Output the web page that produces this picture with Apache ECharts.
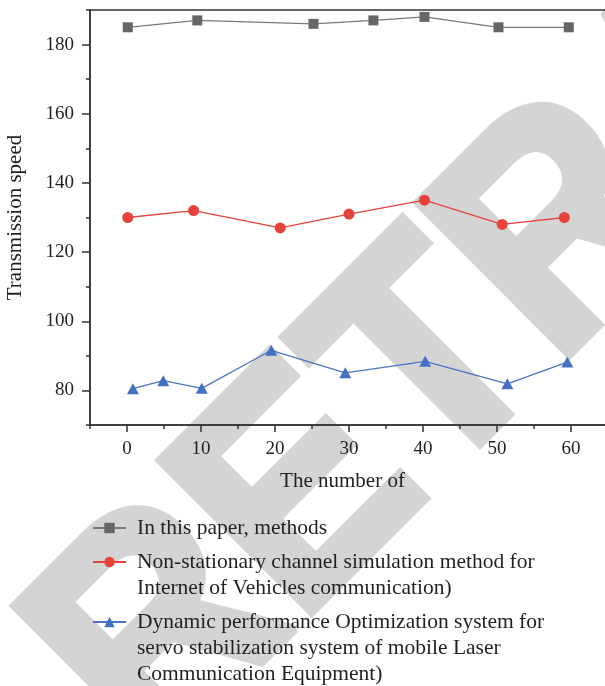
<!DOCTYPE html>
<html>
<head>
<meta charset="utf-8">
<script src="https://cdn.jsdelivr.net/npm/echarts@6/dist/echarts.min.js"></script>
<style>
  html, body { margin: 0; padding: 0; background: #fff; }
  #chart { width: 605px; height: 686px; }
</style>
</head>
<body>
<div id="chart"></div>
<script>
// Series values (x = the number of, y = transmission speed)
const paperX = [0.1, 9.5, 25.2, 33.3, 40.2, 50.2, 59.7];
const paperY = [185, 187, 186, 187, 188, 185, 185];

const channelX = [0.1, 9.0, 20.7, 30.0, 40.2, 50.7, 59.1];
const channelY = [130, 132, 127, 131, 135, 128, 130];

const servoX = [0.8, 4.9, 10.1, 19.5, 29.5, 40.3, 51.4, 59.5];
const servoY = [80.5, 82.8, 80.6, 91.6, 85.1, 88.4, 81.9, 88.2];

const seriesNames = [
  'In this paper, methods',
  'Non-stationary channel simulation method for\nInternet of Vehicles communication)',
  'Dynamic performance Optimization system for\nservo stabilization system of mobile Laser\nCommunication Equipment)'
];

// Tick positions
const xMajorTicks = [0, 10, 20, 30, 40, 50, 60];
const xMinorTicks = [-5, 5, 15, 25, 35, 45, 55, 65];
const yMajorTicks = [80, 100, 120, 140, 160, 180];
const yMinorTicks = [70, 90, 110, 130, 150, 170, 190];

const pairs = (xs, ys) => xs.map((x, i) => [x, ys[i]]);

const ink = '#231f20';
const axisColor = '#333333';
const serif = '"Liberation Serif", "Times New Roman", serif';

// Legend entries: icon sits beside the first line of a wrapped name,
// so the label is padded with leading blank lines to centre that line.
const legendTops = [515, 523, 557];
const legends = seriesNames.map((name, i) => {
  const extra = name.split('\n').length - 1;
  return {
    orient: 'vertical',
    left: 92,
    top: legendTops[i],
    height: 200,
    padding: 0,
    itemWidth: 33,
    itemHeight: 13,
    selectedMode: false,
    data: [name],
    formatter: (n) => '\n'.repeat(extra) + n,
    textStyle: { color: ink, fontFamily: serif, fontSize: 21.5, lineHeight: 26, padding: [0, 0, 0, 6] }
  };
});

const chart = echarts.init(document.getElementById('chart'), null, { renderer: 'canvas' });

const option = {
  backgroundColor: '#ffffff',
  animation: false,
  graphic: [{
    type: 'text',
    z: -10,
    silent: true,
    x: 92,
    y: 710,
    rotation: Math.PI / 4,
    scaleX: 0.92,
    style: {
      text: 'RETRACTED',
      font: 'bold 310px "Liberation Sans", Arial, sans-serif',
      fill: '#d4d4d4',
      stroke: '#d4d4d4',
      lineWidth: 10,
      lineJoin: 'miter',
      align: 'left',
      verticalAlign: 'middle'
    }
  }],
  grid: {
    left: 90, top: 10, right: -3, bottom: 261,
    outerBoundsMode: 'none',
    containLabel: false,
    show: true,
    borderColor: axisColor,
    borderWidth: 1.5,
    backgroundColor: 'transparent'
  },
  xAxis: [{
    type: 'value',
    min: -5, max: 65, interval: 5,
    splitLine: { show: false },
    axisLine: { onZero: false, lineStyle: { color: axisColor, width: 1.5 } },
    axisTick: { show: true, inside: false, length: 7, customValues: xMajorTicks,
      lineStyle: { color: axisColor, width: 1.5 } },
    axisLabel: { customValues: xMajorTicks, margin: 15, color: ink,
      fontFamily: serif, fontSize: 19 },
    name: 'The number of',
    nameLocation: 'middle',
    nameGap: 46,
    nameTextStyle: { color: ink, fontFamily: serif, fontSize: 21, padding: [0, 13, 0, 0] }
  }, {
    type: 'value',
    min: -5, max: 65, interval: 5,
    position: 'bottom',
    splitLine: { show: false },
    axisLine: { show: false, onZero: false },
    axisTick: { show: true, length: 4, customValues: xMinorTicks,
      lineStyle: { color: axisColor, width: 1.5 } },
    axisLabel: { show: false }
  }],
  yAxis: [{
    type: 'value',
    min: 70, max: 190, interval: 10,
    splitLine: { show: false },
    axisLine: { show: true, onZero: false, lineStyle: { color: axisColor, width: 1.5 } },
    axisTick: { show: true, inside: false, length: 8, customValues: yMajorTicks,
      lineStyle: { color: axisColor, width: 1.5 } },
    axisLabel: { customValues: yMajorTicks, margin: 16, color: ink,
      fontFamily: serif, fontSize: 19 },
    name: 'Transmission speed',
    nameLocation: 'middle',
    nameGap: 64,
    nameTextStyle: { color: ink, fontFamily: serif, fontSize: 21 }
  }, {
    type: 'value',
    min: 70, max: 190, interval: 10,
    position: 'left',
    splitLine: { show: false },
    axisLine: { show: false, onZero: false },
    axisTick: { show: true, length: 4, customValues: yMinorTicks,
      lineStyle: { color: axisColor, width: 1.5 } },
    axisLabel: { show: false }
  }],
  legend: legends,
  series: [{
    name: seriesNames[0],
    type: 'line',
    data: pairs(paperX, paperY),
    symbol: 'rect',
    symbolSize: 10,
    itemStyle: { color: '#666666' },
    lineStyle: { color: '#7a7a7a', width: 1.3 },
    z: 3
  }, {
    name: seriesNames[1],
    type: 'line',
    data: pairs(channelX, channelY),
    symbol: 'circle',
    symbolSize: 11,
    itemStyle: { color: '#e8433b' },
    lineStyle: { color: '#e8433b', width: 1.3 },
    z: 3
  }, {
    name: seriesNames[2],
    type: 'line',
    data: pairs(servoX, servoY),
    symbol: 'triangle',
    symbolSize: [12, 11],
    itemStyle: { color: '#4470c2' },
    lineStyle: { color: '#4a74c6', width: 1.3 },
    z: 3
  }]
};

chart.setOption(option);
</script>
</body>
</html>
